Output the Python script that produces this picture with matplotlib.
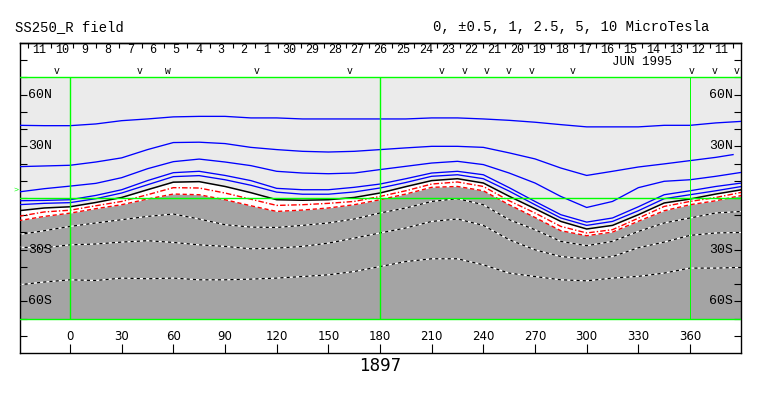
import matplotlib
matplotlib.use("Agg")
import matplotlib.pyplot as plt

# ---------------- data ----------------
lons = [-30, -15, 0, 15, 30, 45, 60, 75, 90, 105, 120, 135, 150, 165, 180,
        195, 210, 225, 240, 255, 270, 285, 300, 315, 330, 345, 360, 375, 390]

# positive contours (blue, solid): 10, 5, 2.5, 1, 0.5 microTesla
b1 = [42.2, 42.0, 42.0, 43.0, 44.9, 45.9, 47.1, 47.4, 47.4, 46.5, 46.5, 45.9, 45.9, 45.9, 45.9,
      45.9, 46.5, 46.5, 45.9, 45.1, 44.0, 42.6, 41.3, 41.3, 41.3, 42.2, 42.2, 43.6, 44.5]
b2_lons = [-30, -15, 0, 15, 30, 45, 60, 75, 90, 105, 120, 135, 150, 165, 180,
           195, 210, 225, 240, 255, 270, 285, 300, 315, 330, 345, 360, 375, 385]
b2 = [18.2, 18.6, 19.0, 20.9, 23.3, 28.1, 32.2, 32.4, 31.6, 29.4, 28.1, 27.1, 26.7, 27.1, 28.1,
      29.1, 30.0, 30.0, 29.4, 26.2, 22.7, 17.4, 13.1, 15.5, 18.0, 19.8, 21.7, 23.6, 25.2]
b3 = [3.5, 5.4, 6.9, 8.5, 11.8, 17.0, 21.1, 22.6, 20.9, 18.8, 15.5, 14.5, 14.1, 14.5, 16.5,
      18.4, 20.3, 21.3, 19.4, 14.5, 8.7, 0.9, -5.5, -2.0, 6.0, 9.7, 10.6, 12.6, 14.9]
b4 = [-1.6, -1.4, -1.0, 1.5, 4.8, 10.1, 14.7, 15.5, 13.1, 10.1, 5.6, 4.8, 4.8, 6.2, 8.1,
      11.2, 14.5, 15.5, 13.5, 6.0, -2.0, -9.7, -14.0, -11.6, -5.1, 1.9, 4.2, 6.7, 8.7]
b5 = [-3.9, -3.1, -2.7, -0.4, 2.9, 7.7, 12.4, 13.0, 10.6, 7.4, 3.4, 2.2, 2.2, 3.5, 5.8,
      9.0, 12.6, 13.5, 11.2, 4.0, -3.9, -11.6, -15.9, -13.6, -7.4, -0.4, 1.9, 4.2, 6.7]
# neutral line (0)
k0 = [-7.4, -5.8, -5.1, -2.6, 0.3, 4.8, 9.2, 9.5, 6.7, 3.1, -1.0, -1.3, -1.0, 0.3, 2.9,
      6.6, 10.1, 11.2, 8.7, 1.0, -6.2, -13.6, -18.0, -15.9, -9.7, -2.9, -0.6, 2.3, 4.8]
# negative contours (red)
r1 = [-10.7, -8.1, -7.1, -4.5, -2.0, 1.9, 6.0, 5.8, 2.9, -0.7, -4.3, -3.9, -3.1, -2.0, 0.9,
      4.2, 8.1, 9.3, 6.7, -1.6, -8.7, -16.5, -20.3, -18.4, -11.7, -4.9, -2.0, 0.3, 3.3]
r2 = [-13.2, -10.7, -8.8, -6.2, -3.9, -0.6, 2.3, 1.9, -1.0, -4.5, -7.8, -7.0, -5.8, -3.9, -1.0,
      2.3, 6.2, 6.7, 4.2, -3.9, -11.3, -19.0, -21.9, -19.8, -13.5, -7.4, -3.9, -1.6, 1.5]
# negative contours inside shaded region (dashed)
d1 = [-21.3, -19.0, -16.5, -14.5, -12.6, -10.7, -9.3, -12.2, -15.5, -16.9, -17.1, -15.9, -14.5, -12.2, -8.7,
      -5.8, -2.0, -0.4, -3.9, -12.6, -18.4, -25.2, -27.7, -25.2, -19.4, -14.5, -11.6, -8.7, -7.8]
d2 = [-28.6, -28.9, -27.2, -26.7, -25.6, -24.8, -25.8, -27.2, -28.1, -29.5, -29.1, -28.1, -26.2, -23.3, -20.3,
      -17.4, -13.6, -12.2, -15.9, -24.2, -30.1, -34.0, -35.3, -34.0, -28.9, -25.6, -21.7, -20.3, -20.0]
d3 = [-50.4, -48.8, -47.5, -47.9, -46.5, -46.9, -46.5, -47.5, -47.5, -47.1, -46.5, -45.6, -44.6, -42.7, -39.8,
      -36.9, -35.3, -35.3, -38.8, -43.6, -45.6, -47.5, -48.1, -46.5, -45.5, -43.6, -40.7, -40.7, -40.3]

lon_ticks = [0, 30, 60, 90, 120, 150, 180, 210, 240, 270, 300, 330, 360]
lat_ticks = [-80, -70, -60, -50, -40, -30, -20, -10, 0, 10, 20, 30, 40, 50, 60, 70, 80]
lat_labels = {60: "60N", 30: "30N", -30: "30S", -60: "60S"}

days = [11, 10, 9, 8, 7, 6, 5, 4, 3, 2, 1, 30, 29, 28, 27, 26, 25, 24, 23, 22, 21,
        20, 19, 18, 17, 16, 15, 14, 13, 12, 11]
day_start_lon = -24.4
day_step = 13.2

obs_lons = [-7.5, 40.6, 56.9, 108.6, 162.6, 216.0, 229.4, 242.1, 254.9, 268.3,
            292.1, 361.2, 374.0, 387.3]
obs_marks = ["v", "v", "w", "v", "v", "v", "v", "v", "v", "v", "v", "v", "v", "v"]

# ---------------- figure ----------------
W, H = 763, 396
fig = plt.figure(figsize=(W / 100, H / 100), dpi=100)
fig.patch.set_facecolor("white")

px_per_deg = 620 / 360.0
x0_px = 70
ax = fig.add_axes([20 / W, (H - 353) / H, 721 / W, 310 / H])
ax.set_xlim((20 - x0_px) / px_per_deg, (741 - x0_px) / px_per_deg)
ax.set_ylim(-90, 90)
ax.set_facecolor("white")

LIGHT = "#ebebeb"
DARK = "#a4a4a4"
GREEN = "#00ff00"
mono = "Liberation Mono"

# shaded regions
ax.fill_between(lons, k0, 70, color=LIGHT, lw=0, zorder=1)
ax.fill_between(lons, -70, r2, color=DARK, lw=0, zorder=1)

# contours
for ys, xs in [(b1, lons), (b2, b2_lons), (b3, lons), (b4, lons), (b5, lons)]:
    ax.plot(xs, ys, color="#0000ff", lw=0.95, zorder=3)
ax.plot(lons, k0, color="black", lw=1.1, zorder=3)
ax.plot(lons, r1, color="#ff0000", lw=1.0, ls=(0, (4, 1.5, 1, 1.5)), zorder=3)
ax.plot(lons, r2, color="#ff0000", lw=1.0, ls=(0, (3, 2)), zorder=3)
for d in (d1, d2, d3):
    ax.plot(lons, d, color="white", lw=0.9, zorder=3)
    ax.plot(lons, d, color="black", lw=0.9, ls=(0, (2.5, 2.5)), zorder=3)

# green reference lines
ax.axhline(70, color=GREEN, lw=1.0, zorder=4)
ax.axhline(-70, color=GREEN, lw=1.0, zorder=4)
ax.axhline(0, color=GREEN, lw=1.0, zorder=4)
ax.vlines([0, 180], -70, 70, color=GREEN, lw=1.0, zorder=4)
ax.vlines([360], -70, 70, color=GREEN, lw=0.7, zorder=4)

# frame and ticks
for s in ax.spines.values():
    s.set_linewidth(1.0)
ax.set_xticks(lon_ticks)
ax.set_xticklabels([])
ax.set_yticks(lat_ticks)
ax.set_yticklabels([])
ax.tick_params(axis="x", direction="in", length=6.5, width=0.8, top=False, bottom=True)
ax.tick_params(axis="y", direction="in", length=5, width=0.8, left=True, right=True)

day_ticks = [day_start_lon + day_step * i for i in range(len(days) + 1)]
sec = ax.secondary_xaxis("top")
sec.set_xticks(day_ticks)
sec.set_xticklabels([])
sec.tick_params(direction="in", length=3.3, width=0.8)
sec.spines["top"].set_linewidth(1.0)

# labels
for lo in lon_ticks:
    ax.text(lo, -80.7, str(lo), ha="center", va="center", fontsize=8.5,
            family="DejaVu Sans", color="black")
left_lab = (28 - x0_px) / px_per_deg
right_lab = (733 - x0_px) / px_per_deg
for la, txt in lat_labels.items():
    ax.text(left_lab, la, txt, ha="left", va="center", fontsize=9.5, family=mono)
    ax.text(right_lab, la, txt, ha="right", va="center", fontsize=9.5, family=mono)

for i, d in enumerate(days):
    mid = (day_ticks[i] + day_ticks[i + 1]) / 2
    ax.text(mid, 85.9, str(d), ha="center", va="center", fontsize=8.5, family=mono)

ax.text((642 - x0_px) / px_per_deg, 79.0, "JUN 1995", ha="center", va="center",
        fontsize=9, family=mono)

for lo, m in zip(obs_lons, obs_marks):
    ax.text(lo, 73.6, m, ha="center", va="center", fontsize=7, family=mono)

ax.text((16 - x0_px) / px_per_deg, 4.6, ">", ha="center", va="center", fontsize=6,
        family=mono, color=GREEN, clip_on=False)

fig.text(15 / W, 1 - 27 / H, "SS250_R field", ha="left", va="center", fontsize=10, family=mono)
fig.text(571 / W, 1 - 27 / H, "0, ±0.5, 1, 2.5, 5, 10 MicroTesla", ha="center", va="center",
         fontsize=10, family=mono)
fig.text(380 / W, 1 - 366 / H, "1897", ha="center", va="center", fontsize=12,
         family="DejaVu Sans", color="black")

fig.savefig("out.png", dpi=100)
